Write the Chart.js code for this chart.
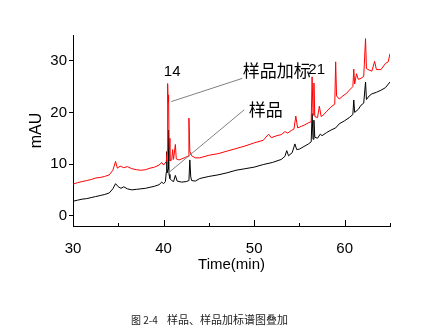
<!DOCTYPE html>
<html>
<head>
<meta charset="utf-8">
<script src="https://cdn.jsdelivr.net/npm/chart.js@4.4.0/dist/chart.umd.min.js"></script>
<style>
html, body { margin: 0; padding: 0; background: #fff; }
</style>
</head>
<body>
<canvas id="chromaChart" width="429" height="331"></canvas>
<script>
// 样品 (black trace)
const sampleTime = [30, 30.5, 31, 31.5, 32, 32.5, 33, 33.5, 34, 34.4, 34.7, 35.0, 35.3, 35.6, 36, 36.5, 37, 37.5, 38, 38.5, 39, 39.5, 39.8, 40.0, 40.2, 40.3, 40.35, 40.4, 40.5, 40.55, 40.6, 40.7, 40.9, 41.1, 41.3, 41.5, 42, 42.5, 42.8, 42.9, 43.0, 43.1, 43.5, 44, 45, 46, 47, 48, 49, 50, 51, 52, 53, 53.4, 53.6, 53.8, 54.2, 54.5, 54.7, 55, 55.5, 56, 56.3, 56.4, 56.5, 56.6, 56.7, 57, 57.3, 57.5, 58, 58.5, 59, 59.4, 60, 60.5, 60.9, 61.0, 61.1, 61.5, 61.8, 62.1, 62.3, 62.4, 62.7, 63, 63.5, 64, 64.5, 65];
const sampleAbs = [2.8, 3.0, 3.2, 3.3, 3.5, 3.7, 3.9, 4.1, 4.4, 5.2, 6.2, 5.6, 5.3, 5.6, 5.2, 5.0, 5.1, 5.2, 5.3, 5.5, 5.7, 6.0, 6.5, 6.2, 6.6, 8.4, 12.4, 8.3, 9.0, 16.6, 8.0, 7.2, 6.8, 6.6, 7.8, 6.7, 6.5, 6.6, 6.8, 10.8, 7.5, 6.8, 6.7, 7.2, 7.6, 7.9, 8.3, 8.8, 9.1, 9.4, 9.9, 10.3, 10.9, 11.5, 12.6, 11.6, 12.2, 13.9, 12.8, 12.9, 13.4, 13.9, 14.3, 19.8, 14.8, 18.5, 15.2, 15.0, 15.8, 15.5, 16.1, 16.6, 17.0, 17.8, 18.4, 19.0, 19.6, 22.4, 20.0, 20.6, 21.4, 21.8, 25.9, 22.5, 23.2, 23.6, 23.9, 24.3, 24.8, 25.9];

// 样品加标 (red trace)
const spikedTime = [30, 30.5, 31, 31.5, 32, 32.5, 33, 33.5, 34, 34.4, 34.7, 34.9, 35.2, 35.6, 36, 36.5, 37, 37.5, 38, 38.5, 39, 39.5, 39.8, 40, 40.3, 40.4, 40.45, 40.5, 40.55, 40.6, 40.7, 40.9, 41.0, 41.1, 41.3, 41.4, 41.7, 42, 42.4, 42.7, 42.8, 42.9, 43.1, 43.5, 44, 45, 46, 47, 48, 49, 50, 51, 51.6, 51.9, 52.5, 53, 53.4, 53.7, 54.1, 54.4, 54.6, 54.8, 55.2, 55.6, 56, 56.3, 56.4, 56.5, 56.6, 56.7, 57.0, 57.2, 57.4, 57.7, 58, 58.5, 58.9, 59.0, 59.1, 59.4, 59.8, 60.2, 60.5, 60.9, 61.0, 61.1, 61.3, 61.5, 61.8, 62.1, 62.3, 62.4, 62.7, 63.0, 63.3, 63.5, 64, 64.5, 64.8, 65];
const spikedAbs = [6.1, 6.4, 6.6, 6.8, 7.0, 7.3, 7.4, 7.6, 7.9, 8.8, 10.5, 9.2, 9.6, 9.3, 9.5, 9.1, 8.9, 8.8, 8.9, 9.2, 9.4, 9.8, 10.3, 9.8, 10.5, 12.5, 25.6, 22.0, 23.4, 15.0, 10.6, 10.8, 12.8, 10.9, 13.8, 11.0, 10.8, 11.0, 11.3, 11.5, 18.9, 12.5, 11.6, 11.2, 11.2, 11.7, 12.0, 12.5, 13.0, 13.5, 14.1, 14.6, 15.8, 15.1, 15.5, 15.7, 16.3, 16.0, 16.5, 16.8, 19.3, 17.0, 17.3, 17.6, 18.0, 18.2, 26.9, 19.5, 25.7, 19.2, 19.0, 21.2, 19.2, 19.6, 20.2, 21.1, 21.6, 29.8, 23.2, 22.6, 23.2, 23.7, 24.3, 25.0, 28.4, 25.5, 27.5, 26.4, 26.6, 27.0, 34.3, 28.5, 28.2, 28.0, 29.9, 28.3, 28.3, 29.5, 29.8, 31.4];

const seriesNames = ['样品', '样品加标'];
const peakNames = ['14', '21'];
const xTicks = [30, 40, 50, 60];
const xMinorTicks = [35, 45, 55, 65];
const yTicks = [0, 10, 20, 30];
const captionFig = '图 2-4';
const captionText = '样品、样品加标谱图叠加';

const toPoints = (xs, ys) => xs.map((x, i) => ({ x: x, y: ys[i] }));

// ticks pointing inward on x, leader lines, labels and caption
const decorPlugin = {
	id: 'decor',
	afterDraw(chart) {
		const ctx = chart.ctx;
		const xs = chart.scales.x, ys = chart.scales.y;
		const bottom = chart.chartArea.bottom;
		ctx.save();
		ctx.strokeStyle = '#000';
		ctx.lineWidth = 1;
		xTicks.forEach(v => {
			const px = Math.round(xs.getPixelForValue(v)) + 0.5;
			ctx.beginPath(); ctx.moveTo(px, bottom); ctx.lineTo(px, bottom - 6); ctx.stroke();
		});
		xMinorTicks.forEach(v => {
			const px = Math.round(xs.getPixelForValue(v)) + 0.5;
			ctx.beginPath(); ctx.moveTo(px, bottom); ctx.lineTo(px, bottom - 3); ctx.stroke();
		});

		// leader lines
		ctx.strokeStyle = '#808080';
		const leader = (x1, y1, x2, y2) => {
			ctx.beginPath();
			ctx.moveTo(xs.getPixelForValue(x1), ys.getPixelForValue(y1));
			ctx.lineTo(xs.getPixelForValue(x2), ys.getPixelForValue(y2));
			ctx.stroke();
		};
		leader(40.85, 22.1, 48.7, 26.6);
		leader(40.47, 8.2, 48.9, 20.5);

		// labels
		ctx.fillStyle = '#000';
		ctx.textBaseline = 'middle';
		ctx.textAlign = 'center';
		ctx.font = '15px "Liberation Sans", Arial, sans-serif';
		ctx.fillText(peakNames[0], xs.getPixelForValue(40.95), ys.getPixelForValue(27.8));
		ctx.fillText(peakNames[1], xs.getPixelForValue(56.9), ys.getPixelForValue(28.2));
		ctx.textAlign = 'left';
		ctx.font = '17px "Noto Sans CJK SC", sans-serif';
		ctx.fillText(seriesNames[1], xs.getPixelForValue(48.75), ys.getPixelForValue(28.2));
		ctx.fillText(seriesNames[0], xs.getPixelForValue(49.4), ys.getPixelForValue(20.5));

		ctx.fillStyle = '#222';
		ctx.font = '10px "Noto Sans CJK SC", sans-serif';
		ctx.fillText(captionFig, 131, 320);
		ctx.font = '11px "Noto Sans CJK SC", sans-serif';
		ctx.fillText(captionText, 167, 320);
		ctx.restore();
	}
};

const ctx = document.getElementById('chromaChart').getContext('2d');
new Chart(ctx, {
	type: 'line',
	data: {
		datasets: [{
			label: seriesNames[1],
			data: toPoints(spikedTime, spikedAbs),
			borderColor: '#ff0000',
			borderWidth: 1,
			pointRadius: 0,
			tension: 0
		}, {
			label: seriesNames[0],
			data: toPoints(sampleTime, sampleAbs),
			borderColor: '#000000',
			borderWidth: 1,
			pointRadius: 0,
			tension: 0
		}]
	},
	options: {
		responsive: false,
		animation: false,
		layout: { padding: { top: 35, right: 39, left: 0, bottom: 0 } },
		plugins: {
			legend: { display: false },
			tooltip: { enabled: false }
		},
		scales: {
			x: {
				type: 'linear',
				min: 30,
				max: 65,
				afterBuildTicks: s => { s.ticks = xTicks.map(v => ({ value: v })); },
				afterFit: s => { s.height = 105; },
				grid: { display: false },
				border: { display: true, color: '#000', width: 1 },
				ticks: {
					color: '#000',
					padding: 6,
					maxRotation: 0,
					font: { family: '"Liberation Sans", Arial, sans-serif', size: 15 }
				},
				title: {
					display: true,
					text: 'Time(min)',
					color: '#000',
					padding: { top: 0, bottom: 57 },
					font: { family: '"Liberation Sans", Arial, sans-serif', size: 15 }
				}
			},
			y: {
				min: -2,
				max: 35,
				afterBuildTicks: s => { s.ticks = yTicks.map(v => ({ value: v })); },
				afterFit: s => { s.width = 73; },
				grid: { display: true, drawOnChartArea: false, drawTicks: true, tickLength: 4, color: '#000' },
				border: { display: true, color: '#000', width: 1 },
				ticks: {
					color: '#000',
					padding: 2,
					font: { family: '"Liberation Sans", Arial, sans-serif', size: 15 }
				},
				title: {
					display: true,
					text: 'mAU',
					color: '#000',
					padding: { top: 27, bottom: 0 },
					font: { family: '"Liberation Sans", Arial, sans-serif', size: 16 }
				}
			}
		}
	},
	plugins: [decorPlugin]
});
</script>
</body>
</html>
